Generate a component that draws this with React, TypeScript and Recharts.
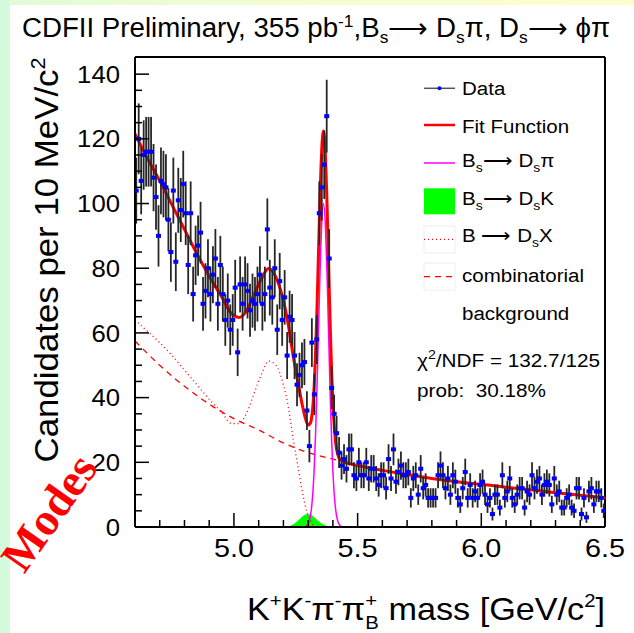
import React from "react";
import {
  Area,
  ComposedChart,
  ErrorBar,
  Legend,
  Line,
  ReferenceLine,
  Scatter,
  XAxis,
  YAxis,
} from "recharts";

// histogram binning: 10 MeV bins from 4.6 GeV
const BIN_LOW = 4.6;
const BIN_WIDTH = 0.01;
const X_MIN = 4.6;
const X_MAX = 6.5;
const Y_MAX = 145.3;

// candidates per bin
const counts = [
  104, 120, 107, 115, 116, 116, 116, 108, 102, 90,
  107, 106, 105, 95, 85, 104, 82, 101, 98, 106,
  97, 81, 97, 72, 84, 87, 91, 69, 73, 80,
  72, 78, 83, 69, 81, 72, 64, 70, 61, 64,
  74, 54, 75, 69, 75, 73, 67, 70, 69, 72,
  78, 69, 72, 92, 74, 71, 80, 61, 76, 64,
  71, 53, 65, 64, 53, 44, 47, 50, 51, 36,
  25, 57, 41, 58, 97, 105, 112, 127, 83, 43,
  35, 29, 23, 19, 21, 18, 24, 24, 16, 15,
  20, 16, 16, 20, 15, 18, 18, 15, 13, 16,
  16, 12, 21, 15, 24, 14, 17, 19, 16, 16,
  17, 9, 15, 16, 10, 18, 12, 13, 9, 9,
  9, 9, 16, 19, 16, 12, 15, 10, 16, 14,
  9, 7, 12, 17, 9, 13, 9, 11, 9, 13,
  14, 10, 7, 9, 4, 10, 10, 6, 16, 9,
  11, 15, 9, 7, 10, 12, 12, 6, 11, 10,
  16, 12, 14, 15, 10, 13, 14, 13, 7, 15,
  10, 11, 6, 6, 9, 10, 6, 5, 12, 12,
  4, 9, 3, 11, 12, 7, 11, 11, 9, 5,
];

// fit curves sampled as [mass, value]
const fitTotal: [number, number][] = [
  [4.6, 121.5], [4.65, 114], [4.7, 107], [4.75, 99.5], [4.8, 92], [4.85, 84.5],
  [4.9, 77.5], [4.95, 71.2], [4.99, 66], [5.02, 64.8], [5.05, 66.7], [5.08, 71.7],
  [5.11, 76.6], [5.14, 79.9], [5.17, 77.2], [5.2, 70], [5.22, 62.4], [5.24, 52.6],
  [5.26, 44.2], [5.28, 36.4], [5.29, 33.3], [5.3, 31.5], [5.31, 32.3], [5.315, 34.4],
  [5.32, 38.2], [5.325, 44.7], [5.33, 54], [5.335, 65.9], [5.34, 79.7], [5.345, 94],
  [5.35, 107], [5.355, 117], [5.362, 122.4], [5.37, 114.5], [5.375, 103.3], [5.38, 89.1],
  [5.385, 73.9], [5.39, 59.8], [5.395, 48], [5.4, 38.3], [5.405, 31.7], [5.41, 26.9],
  [5.42, 22.3], [5.43, 20.8], [5.45, 20], [5.5, 19], [5.6, 17.5], [5.7, 16.2],
  [5.8, 15], [5.9, 14], [6.0, 13.2], [6.1, 12.3], [6.2, 11.5], [6.3, 10.6],
  [6.4, 9.8], [6.5, 9],
];

const fitDsPi: [number, number][] = [
  [5.28, 0], [5.29, 0.2], [5.3, 0.9], [5.31, 3.8], [5.315, 6.9], [5.32, 11.8],
  [5.325, 19], [5.33, 29], [5.335, 41.3], [5.34, 55.6], [5.345, 70.4], [5.35, 84],
  [5.355, 94.2], [5.362, 100], [5.37, 92.5], [5.375, 81.5], [5.38, 67.5], [5.385, 52.6],
  [5.39, 38.6], [5.395, 26.7], [5.4, 17.3], [5.405, 10.6], [5.41, 6.1], [5.42, 1.7],
  [5.43, 0.4], [5.44, 0],
];

const fitDsK: [number, number][] = [
  [5.21, 0], [5.23, 0.4], [5.25, 1.4], [5.27, 2.8], [5.285, 3.7], [5.3, 4],
  [5.315, 3.6], [5.33, 2.6], [5.35, 1.3], [5.37, 0.5], [5.39, 0],
];

const fitDsX: [number, number][] = [
  [4.6, 64], [4.65, 60.5], [4.7, 57], [4.75, 53], [4.8, 48.5], [4.85, 44],
  [4.9, 39.5], [4.95, 35.5], [4.99, 32], [5.02, 32], [5.05, 35], [5.08, 41],
  [5.11, 47], [5.14, 51.3], [5.17, 50], [5.2, 44], [5.22, 37], [5.24, 27],
  [5.26, 18], [5.28, 9.5], [5.29, 6], [5.3, 3.5], [5.31, 2], [5.32, 0.5], [5.33, 0],
];

const fitComb: [number, number][] = [
  [4.6, 57.5], [4.7, 50], [4.8, 43.5], [4.9, 38], [5.0, 33.5], [5.1, 30],
  [5.2, 26], [5.3, 23], [5.4, 21], [5.5, 19], [5.6, 17.5], [5.7, 16.2],
  [5.8, 15], [5.9, 14], [6.0, 13.2], [6.1, 12.3], [6.2, 11.5], [6.3, 10.6],
  [6.4, 9.8], [6.5, 9],
];

const xMajorTicks = [5.0, 5.5, 6.0, 6.5];
const xMinorTicks = [4.7, 4.8, 4.9, 5.1, 5.2, 5.3, 5.4, 5.6, 5.7, 5.8, 5.9, 6.1, 6.2, 6.3, 6.4];
const yMajorTicks = [0, 20, 40, 60, 80, 100, 120, 140];
const yMinorTicks = [5, 10, 15, 25, 30, 35, 45, 50, 55, 65, 70, 75, 85, 90, 95, 105, 110, 115, 125, 130, 135];

const FONT = "'Liberation Sans', Arial, Helvetica, sans-serif";
const TICK_GAP = 10;
const ARROW = "\u27F6";

const toPoints = (arr: [number, number][]) => arr.map(([m, v]) => ({ m, v }));

const dataPoints = counts.map((n, i) => ({
  m: BIN_LOW + (i + 0.5) * BIN_WIDTH,
  v: n,
  err: Math.sqrt(n),
}));

const xTicks = [...xMinorTicks, ...xMajorTicks].sort((a, b) => a - b);
const yTicks = [...yMinorTicks, ...yMajorTicks].sort((a, b) => a - b);

function XTick({ x, y, payload }: any) {
  const v = payload.value as number;
  const major = xMajorTicks.includes(v);
  const base = y - TICK_GAP;
  return (
    <g>
      <line x1={x} x2={x} y1={base} y2={base - (major ? 14 : 7)} stroke="#000" strokeWidth={1.5} />
      {major && (
        <text
          x={x}
          y={base + 30}
          textAnchor="middle"
          fontSize={25}
          fontFamily={FONT}
          textLength={40}
          lengthAdjust="spacingAndGlyphs"
          fill="#000"
        >
          {v.toFixed(1)}
        </text>
      )}
    </g>
  );
}

function YTick({ x, y, payload }: any) {
  const v = payload.value as number;
  const major = yMajorTicks.includes(v);
  const left = x + TICK_GAP;
  const label = String(v);
  return (
    <g>
      <line x1={left} x2={left + (major ? 14 : 7)} y1={y} y2={y} stroke="#000" strokeWidth={1.5} />
      {major && (
        <text
          x={left - 15}
          y={y + 8.6}
          textAnchor="end"
          fontSize={24}
          fontFamily={FONT}
          textLength={label.length * 14.3}
          lengthAdjust="spacingAndGlyphs"
          fill="#000"
        >
          {label}
        </text>
      )}
    </g>
  );
}

function DataMarker({ cx, cy }: any) {
  return <rect x={cx - 2.5} y={cy - 2} width={5} height={4} fill="#0000ff" />;
}

function LegendBox() {
  const sub = { fontSize: 13 };
  return (
    <svg width={220} height={340} style={{ display: "block", fontFamily: FONT }}>
      <line x1={19} x2={50} y1={18.3} y2={18.3} stroke="#555" strokeWidth={1.5} />
      <circle cx={34.5} cy={18.3} r={2} fill="#0000ff" />
      <line x1={19} x2={50} y1={55} y2={55} stroke="#ff0000" strokeWidth={2.5} />
      <line x1={19} x2={50} y1={93} y2={93} stroke="#ff00ff" strokeWidth={1.5} />
      <rect x={19} y={118.3} width={31} height={26} fill="#00ff00" />
      <rect x={19} y={156} width={31} height={27} fill="none" stroke="#eeeeee" />
      <line x1={19} x2={50} y1={169.3} y2={169.3} stroke="#ff0000" strokeWidth={1.3} strokeDasharray="1 3" />
      <rect x={19} y={193} width={31} height={27} fill="none" stroke="#eeeeee" />
      <line x1={19} x2={50} y1={206.7} y2={206.7} stroke="#ff0000" strokeWidth={1.3} strokeDasharray="6 5" />
      <g transform="translate(57,0) scale(1.08,1)" fontSize={19} fill="#000">
        <text x={0} y={25}>Data</text>
        <text x={0} y={62.7}>Fit Function</text>
        <text x={0} y={96.7}>
          B<tspan dy={5} {...sub}>s</tspan>
          <tspan dy={-5}>{ARROW} D</tspan>
          <tspan dy={5} {...sub}>s</tspan>
          <tspan dy={-5}>π</tspan>
        </text>
        <text x={0} y={135}>
          B<tspan dy={5} {...sub}>s</tspan>
          <tspan dy={-5}>{ARROW} D</tspan>
          <tspan dy={5} {...sub}>s</tspan>
          <tspan dy={-5}>K</tspan>
        </text>
        <text x={0} y={171.7}>
          B {ARROW} D<tspan dy={5} {...sub}>s</tspan>
          <tspan dy={-5}>X</tspan>
        </text>
        <text x={0} y={212.3}>combinatorial</text>
        <text x={0} y={250}>background</text>
      </g>
      <g fontSize={19} fill="#000">
        <text x={12} y={296.7} textLength={183} lengthAdjust="spacingAndGlyphs">
          χ<tspan dy={-8} fontSize={13}>2</tspan>
          <tspan dy={8}>/NDF = 132.7/125</tspan>
        </text>
        <text x={12} y={326.7} textLength={129} lengthAdjust="spacingAndGlyphs" xmlSpace="preserve">
          prob:  30.18%
        </text>
      </g>
    </svg>
  );
}

export default function App() {
  return (
    <div
      style={{
        position: "fixed",
        left: 0,
        top: 0,
        width: 634,
        height: 633,
        background: "#ffffff",
        overflow: "hidden",
      }}
    >
      <div style={{ position: "absolute", left: 0, top: 0, width: 10, height: 633, background: "#d4fbdb" }} />
      <div
        style={{
          position: "absolute",
          left: 10,
          top: 0,
          width: 624,
          height: 5,
          background: "linear-gradient(to right, #e2fcd8, #f6fdd2 50%, #fffdd0)",
        }}
      />
      <div style={{ position: "absolute", left: 0, top: 0 }}>
        <ComposedChart width={634} height={633} margin={{ top: 57, right: 29, bottom: 66, left: 75 }}>
          <XAxis
            dataKey="m"
            type="number"
            domain={[X_MIN, X_MAX]}
            allowDataOverflow
            ticks={xTicks}
            interval={0}
            tickLine={false}
            tickSize={0}
            tickMargin={TICK_GAP}
            height={40}
            axisLine={{ stroke: "#000", strokeWidth: 2 }}
            tick={<XTick />}
          />
          <YAxis
            dataKey="v"
            type="number"
            domain={[0, Y_MAX]}
            allowDataOverflow
            ticks={yTicks}
            interval={0}
            tickLine={false}
            tickSize={0}
            tickMargin={TICK_GAP}
            width={60}
            axisLine={{ stroke: "#000", strokeWidth: 2 }}
            tick={<YTick />}
          />
          <ReferenceLine y={Y_MAX} stroke="#000" strokeWidth={2} />
          <ReferenceLine x={X_MAX} stroke="#000" strokeWidth={2} />
          <Area
            data={toPoints(fitDsK)}
            dataKey="v"
            type="monotone"
            fill="#00ff00"
            fillOpacity={1}
            stroke="none"
            isAnimationActive={false}
          />
          <Line
            data={toPoints(fitComb)}
            dataKey="v"
            type="monotone"
            stroke="#ff0000"
            strokeWidth={1.3}
            strokeDasharray="6 5"
            dot={false}
            activeDot={false}
            isAnimationActive={false}
          />
          <Line
            data={toPoints(fitDsX)}
            dataKey="v"
            type="monotone"
            stroke="#ff0000"
            strokeWidth={1.3}
            strokeDasharray="1 3"
            dot={false}
            activeDot={false}
            isAnimationActive={false}
          />
          <Line
            data={toPoints(fitDsPi)}
            dataKey="v"
            type="monotone"
            stroke="#ff00ff"
            strokeWidth={1.5}
            dot={false}
            activeDot={false}
            isAnimationActive={false}
          />
          <Line
            data={toPoints(fitTotal)}
            dataKey="v"
            type="monotone"
            stroke="#ff0000"
            strokeWidth={3}
            dot={false}
            activeDot={false}
            isAnimationActive={false}
          />
          <Scatter data={dataPoints} dataKey="v" shape={<DataMarker />} isAnimationActive={false}>
            <ErrorBar dataKey="err" direction="y" width={0} stroke="#262626" strokeWidth={1.8} />
          </Scatter>
          <Legend
            layout="vertical"
            align="center"
            verticalAlign="middle"
            content={() => <LegendBox />}
            wrapperStyle={{ left: 405, top: 70, width: 220, height: 340 }}
          />
        </ComposedChart>
      </div>
      <svg
        width={634}
        height={633}
        style={{ position: "absolute", left: 0, top: 0, pointerEvents: "none" }}
        fontFamily={FONT}
      >
        <text x={22} y={37} fontSize={27} textLength={588} lengthAdjust="spacingAndGlyphs" fill="#000">
          CDFII Preliminary, 355 pb
          <tspan dy={-10} fontSize={17}>-1</tspan>
          <tspan dy={10}>,B</tspan>
          <tspan dy={6} fontSize={17}>s</tspan>
          <tspan dy={-6}>{ARROW} D</tspan>
          <tspan dy={6} fontSize={17}>s</tspan>
          <tspan dy={-6}>π, D</tspan>
          <tspan dy={6} fontSize={17}>s</tspan>
          <tspan dy={-6}>{ARROW} ϕπ</tspan>
        </text>
        <text
          transform="translate(58,260) rotate(-90)"
          textAnchor="middle"
          fontSize={34}
          textLength={405}
          lengthAdjust="spacingAndGlyphs"
          fill="#000"
        >
          Candidates per 10 MeV/c<tspan dy={-13} fontSize={21}>2</tspan>
        </text>
        <text x={247} y={620} fontSize={32} textLength={358} lengthAdjust="spacingAndGlyphs" fill="#000">
          K<tspan dy={-13} fontSize={19}>+</tspan>
          <tspan dy={13}>K</tspan>
          <tspan dy={-13} fontSize={19}>-</tspan>
          <tspan dy={13}>π</tspan>
          <tspan dy={-13} fontSize={19}>-</tspan>
          <tspan dy={13}>π</tspan>
          <tspan dy={-13} fontSize={19}>+</tspan>
          <tspan dx={-11} dy={22} fontSize={19}>B</tspan>
          <tspan dy={-9}> mass [GeV/c</tspan>
          <tspan dy={-13} fontSize={19}>2</tspan>
          <tspan dy={13}>]</tspan>
        </text>
        <text
          transform="translate(99,468) rotate(-55)"
          textAnchor="end"
          fontSize={46}
          fontWeight="bold"
          fontFamily="'Liberation Serif', 'Times New Roman', serif"
          fill="#ff0000"
        >
          Modes
        </text>
      </svg>
    </div>
  );
}
